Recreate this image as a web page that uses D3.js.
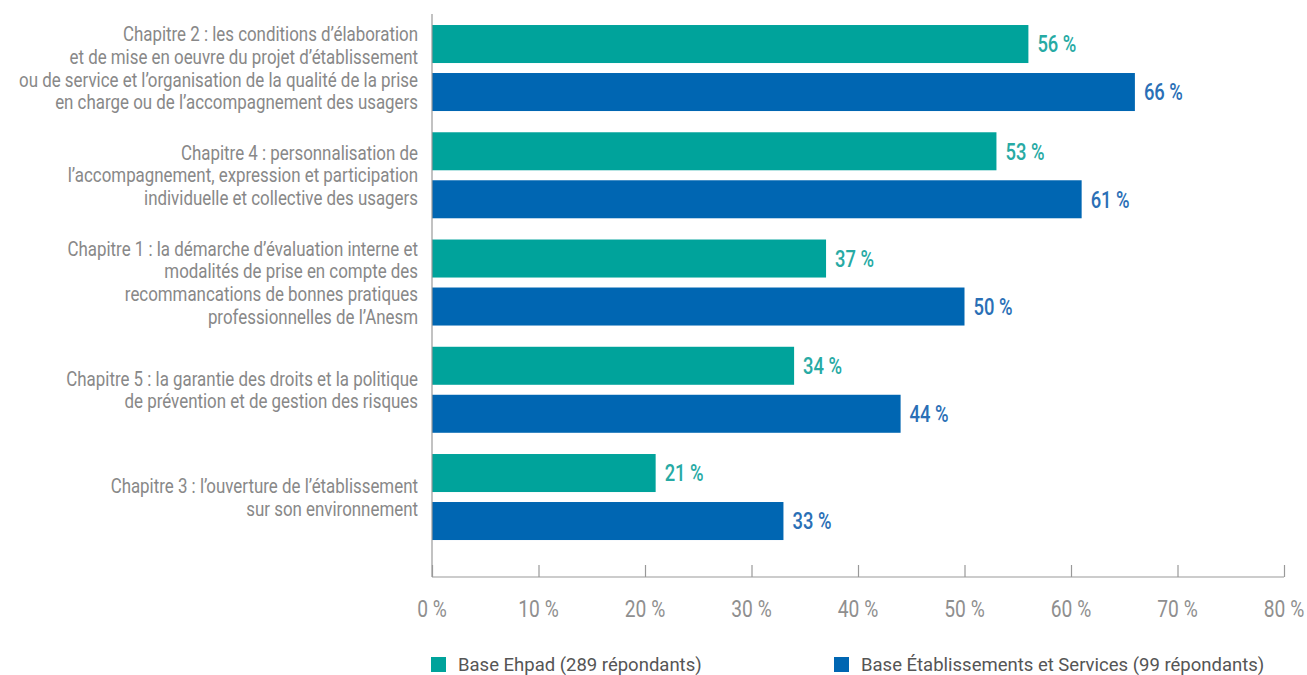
<!DOCTYPE html>
<html>
<head>
<meta charset="utf-8">
<script src="https://cdn.jsdelivr.net/npm/d3@7"></script>
<style>
  body { margin: 0; background: #fff; }
  svg { display: block; }
  .cat-label { font-family: Roboto, "Liberation Sans", sans-serif; font-size: 20px; fill: #888; }
  .tick-label { font-family: Roboto, "Liberation Sans", sans-serif; font-size: 24px; fill: #8f8f8f; }
  .value-label { font-family: Roboto, "Liberation Sans", sans-serif; font-size: 23px; font-weight: 500; }
  .legend-text { font-family: Roboto, "Liberation Sans", sans-serif; font-size: 18.5px; fill: #555; }
</style>
</head>
<body>
<div id="chart"></div>
<script>
// ---------------- data ----------------
const categories = [
  ["Chapitre 2 : les conditions d’élaboration",
   "et de mise en oeuvre du projet d’établissement",
   "ou de service et l’organisation de la qualité de la prise",
   "en charge ou de l’accompagnement des usagers"],
  ["Chapitre 4 : personnalisation de",
   "l’accompagnement, expression et participation",
   "individuelle et collective des usagers"],
  ["Chapitre 1 : la démarche d’évaluation interne et",
   "modalités de prise en compte des",
   "recommancations de bonnes pratiques",
   "professionnelles de l’Anesm"],
  ["Chapitre 5 : la garantie des droits et la politique",
   "de prévention et de gestion des risques"],
  ["Chapitre 3 : l’ouverture de l’établissement",
   "sur son environnement"]
];
const seriesNames = ["Base Ehpad (289 répondants)", "Base Établissements et Services (99 répondants)"];
const ehpadValues = [56, 53, 37, 34, 21];
const essmsValues = [66, 61, 50, 44, 33];
const xTicks = [0, 10, 20, 30, 40, 50, 60, 70, 80];

// ---------------- layout ----------------
const W = 1307, H = 675;
const barColors = ["#00a39b", "#0066b2"];
const labelColors = ["#27aaa4", "#2a6fb6"];
const axisY = 577;
const narrow = 0.8;     // no condensed font installed, so squeeze Roboto horizontally
const narrowCat = 0.845;

const svg = d3.select("#chart").append("svg")
  .attr("width", W).attr("height", H);

const x = d3.scaleLinear().domain([0, 80]).range([432, 1284]);

const catIdx = d3.range(categories.length);
const y = d3.scaleBand()
  .domain(catIdx)
  .range([14.4, 14.4 + 5 * 107.25])
  .paddingInner(0.198)
  .paddingOuter(0.099);

const ySub = d3.scaleBand()
  .domain([0, 1])
  .range([0, y.bandwidth()])
  .paddingInner(0.208);

// ---------------- bars ----------------
const rows = catIdx.map(i => ({ i, vals: [ehpadValues[i], essmsValues[i]] }));

const groups = svg.selectAll("g.group")
  .data(rows).join("g")
  .attr("class", "group")
  .attr("transform", d => `translate(0,${y(d.i)})`);

groups.selectAll("rect")
  .data(d => d.vals.map((v, s) => ({ v, s })))
  .join("rect")
  .attr("x", x(0))
  .attr("y", d => ySub(d.s))
  .attr("width", d => x(d.v) - x(0))
  .attr("height", ySub.bandwidth())
  .attr("fill", d => barColors[d.s]);

groups.selectAll("g.value")
  .data(d => d.vals.map((v, s) => ({ v, s })))
  .join("g")
  .attr("class", "value")
  .attr("transform", d => `translate(${x(d.v) + 9},${ySub(d.s) + ySub.bandwidth() / 2}) scale(${narrow},1)`)
  .append("text")
  .attr("class", "value-label")
  .attr("dy", "0.36em")
  .attr("fill", d => labelColors[d.s])
  .text(d => d.v + " %");

// ---------------- category labels ----------------
const lineH = 22.6;
groups.each(function(d) {
  const lines = categories[d.i];
  const cy = y.bandwidth() / 2;
  const t = d3.select(this).append("g")
    .attr("transform", `translate(418,${cy}) scale(${narrowCat},1)`)
    .append("text")
    .attr("class", "cat-label")
    .attr("text-anchor", "end");
  lines.forEach((ln, k) => {
    t.append("tspan")
      .attr("x", 0)
      .attr("y", (k - (lines.length - 1) / 2) * lineH)
      .attr("dy", "0.36em")
      .text(ln);
  });
});

// ---------------- axes ----------------
svg.append("line")
  .attr("x1", x(0)).attr("x2", x(0))
  .attr("y1", 14).attr("y2", axisY)
  .attr("stroke", "#999").attr("stroke-width", 1.2);

const xAxis = d3.axisTop(x)
  .tickValues(xTicks)
  .tickSize(12)
  .tickFormat("");

const gx = svg.append("g")
  .attr("transform", `translate(0,${axisY})`)
  .call(xAxis);
gx.select(".domain").attr("stroke", "#999").attr("stroke-width", 1.2)
  .attr("d", `M${x(0)},0H${x(80)}`);
gx.selectAll(".tick line").attr("stroke", "#999").attr("stroke-width", 1.2);

svg.selectAll("g.tick-label")
  .data(xTicks).join("g")
  .attr("class", "tick-label")
  .attr("transform", d => `translate(${x(d)},617) scale(${narrow},1)`)
  .append("text")
  .attr("class", "tick-label")
  .attr("text-anchor", "middle")
  .text(d => d + " %");

// ---------------- legend ----------------
const legendX = [431, 834];
const leg = svg.selectAll("g.legend")
  .data(seriesNames).join("g")
  .attr("class", "legend")
  .attr("transform", (d, i) => `translate(${legendX[i]},657)`);
leg.append("rect")
  .attr("width", 15).attr("height", 15)
  .attr("fill", (d, i) => barColors[i]);
leg.append("text")
  .attr("class", "legend-text")
  .attr("x", 27).attr("y", 14)
  .text(d => d);
</script>
</body>
</html>
